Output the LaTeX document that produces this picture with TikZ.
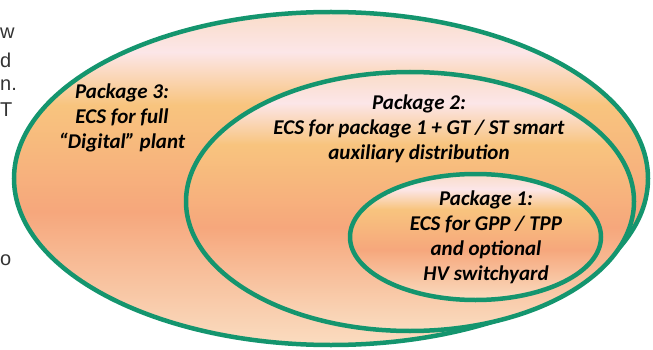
\documentclass[tikz,border=0pt]{standalone}
\usepackage{fontspec}
\setmainfont{Carlito}
\newfontfamily\cutfont{Liberation Sans}
\usetikzlibrary{shapes.geometric}
\definecolor{ringgreen}{HTML}{14956E}
\definecolor{peachtop}{HTML}{F9DCC8}
\definecolor{blush}{HTML}{FCE6E8}
\definecolor{amber}{HTML}{F8C47E}
\definecolor{salmon}{HTML}{F6A77C}
\definecolor{peachlow}{HTML}{FADCC0}
\definecolor{cutgrey}{HTML}{333333}
\pgfdeclareverticalshading{pkgfill}{100bp}{color(0bp)=(peachlow); color(25bp)=(peachlow);
  color(45bp)=(salmon); color(61bp)=(amber); color(69bp)=(blush); color(75bp)=(peachtop);
  color(100bp)=(peachtop)}

\begin{document}
\begin{tikzpicture}[x=1pt, y=-1pt,
    pkgring/.style={ellipse, draw=ringgreen, line width=4.5pt, shading=pkgfill, inner sep=0pt},
    pkgtext/.style={font=\fontsize{21}{25}\selectfont\bfseries\itshape, align=center, text=black},
    cutfrag/.style={font=\cutfont\fontsize{20}{22}\selectfont, text=cutgrey, anchor=west, inner sep=0pt}]
  \useasboundingbox (0,0) rectangle (653,350);

  % text cut off at the left border
  \node[cutfrag] (cutw) at (0,33) {w};
  \node[cutfrag] (cutd) at (0,60) {d};
  \node[cutfrag] (cutn) at (0,85) {n.};
  \node[cutfrag] (cutt) at (0,110) {T};
  \node[cutfrag] (cuto) at (0,260) {o};

  % nested packages
  \node[pkgring, minimum width=634pt, minimum height=333pt] (outer) at (331,178.5) {};
  \node[pkgring, minimum width=448pt, minimum height=259pt] (middle) at (410,201.5) {};
  \node[pkgring, minimum width=251pt, minimum height=126pt] (inner) at (475.5,237) {};

  \node[pkgtext] (pkg3) at (122,118) {Package 3:\\ECS for full\\“Digital” plant};
  \node[pkgtext] (pkg2) at (419,129) {Package 2:\\ECS for package 1 + GT / ST smart\\auxiliary distribution};
  \node[pkgtext] (pkg1) at (486,237.5) {Package 1:\\ECS for GPP / TPP\\and optional\\HV switchyard};
\end{tikzpicture}
\end{document}
